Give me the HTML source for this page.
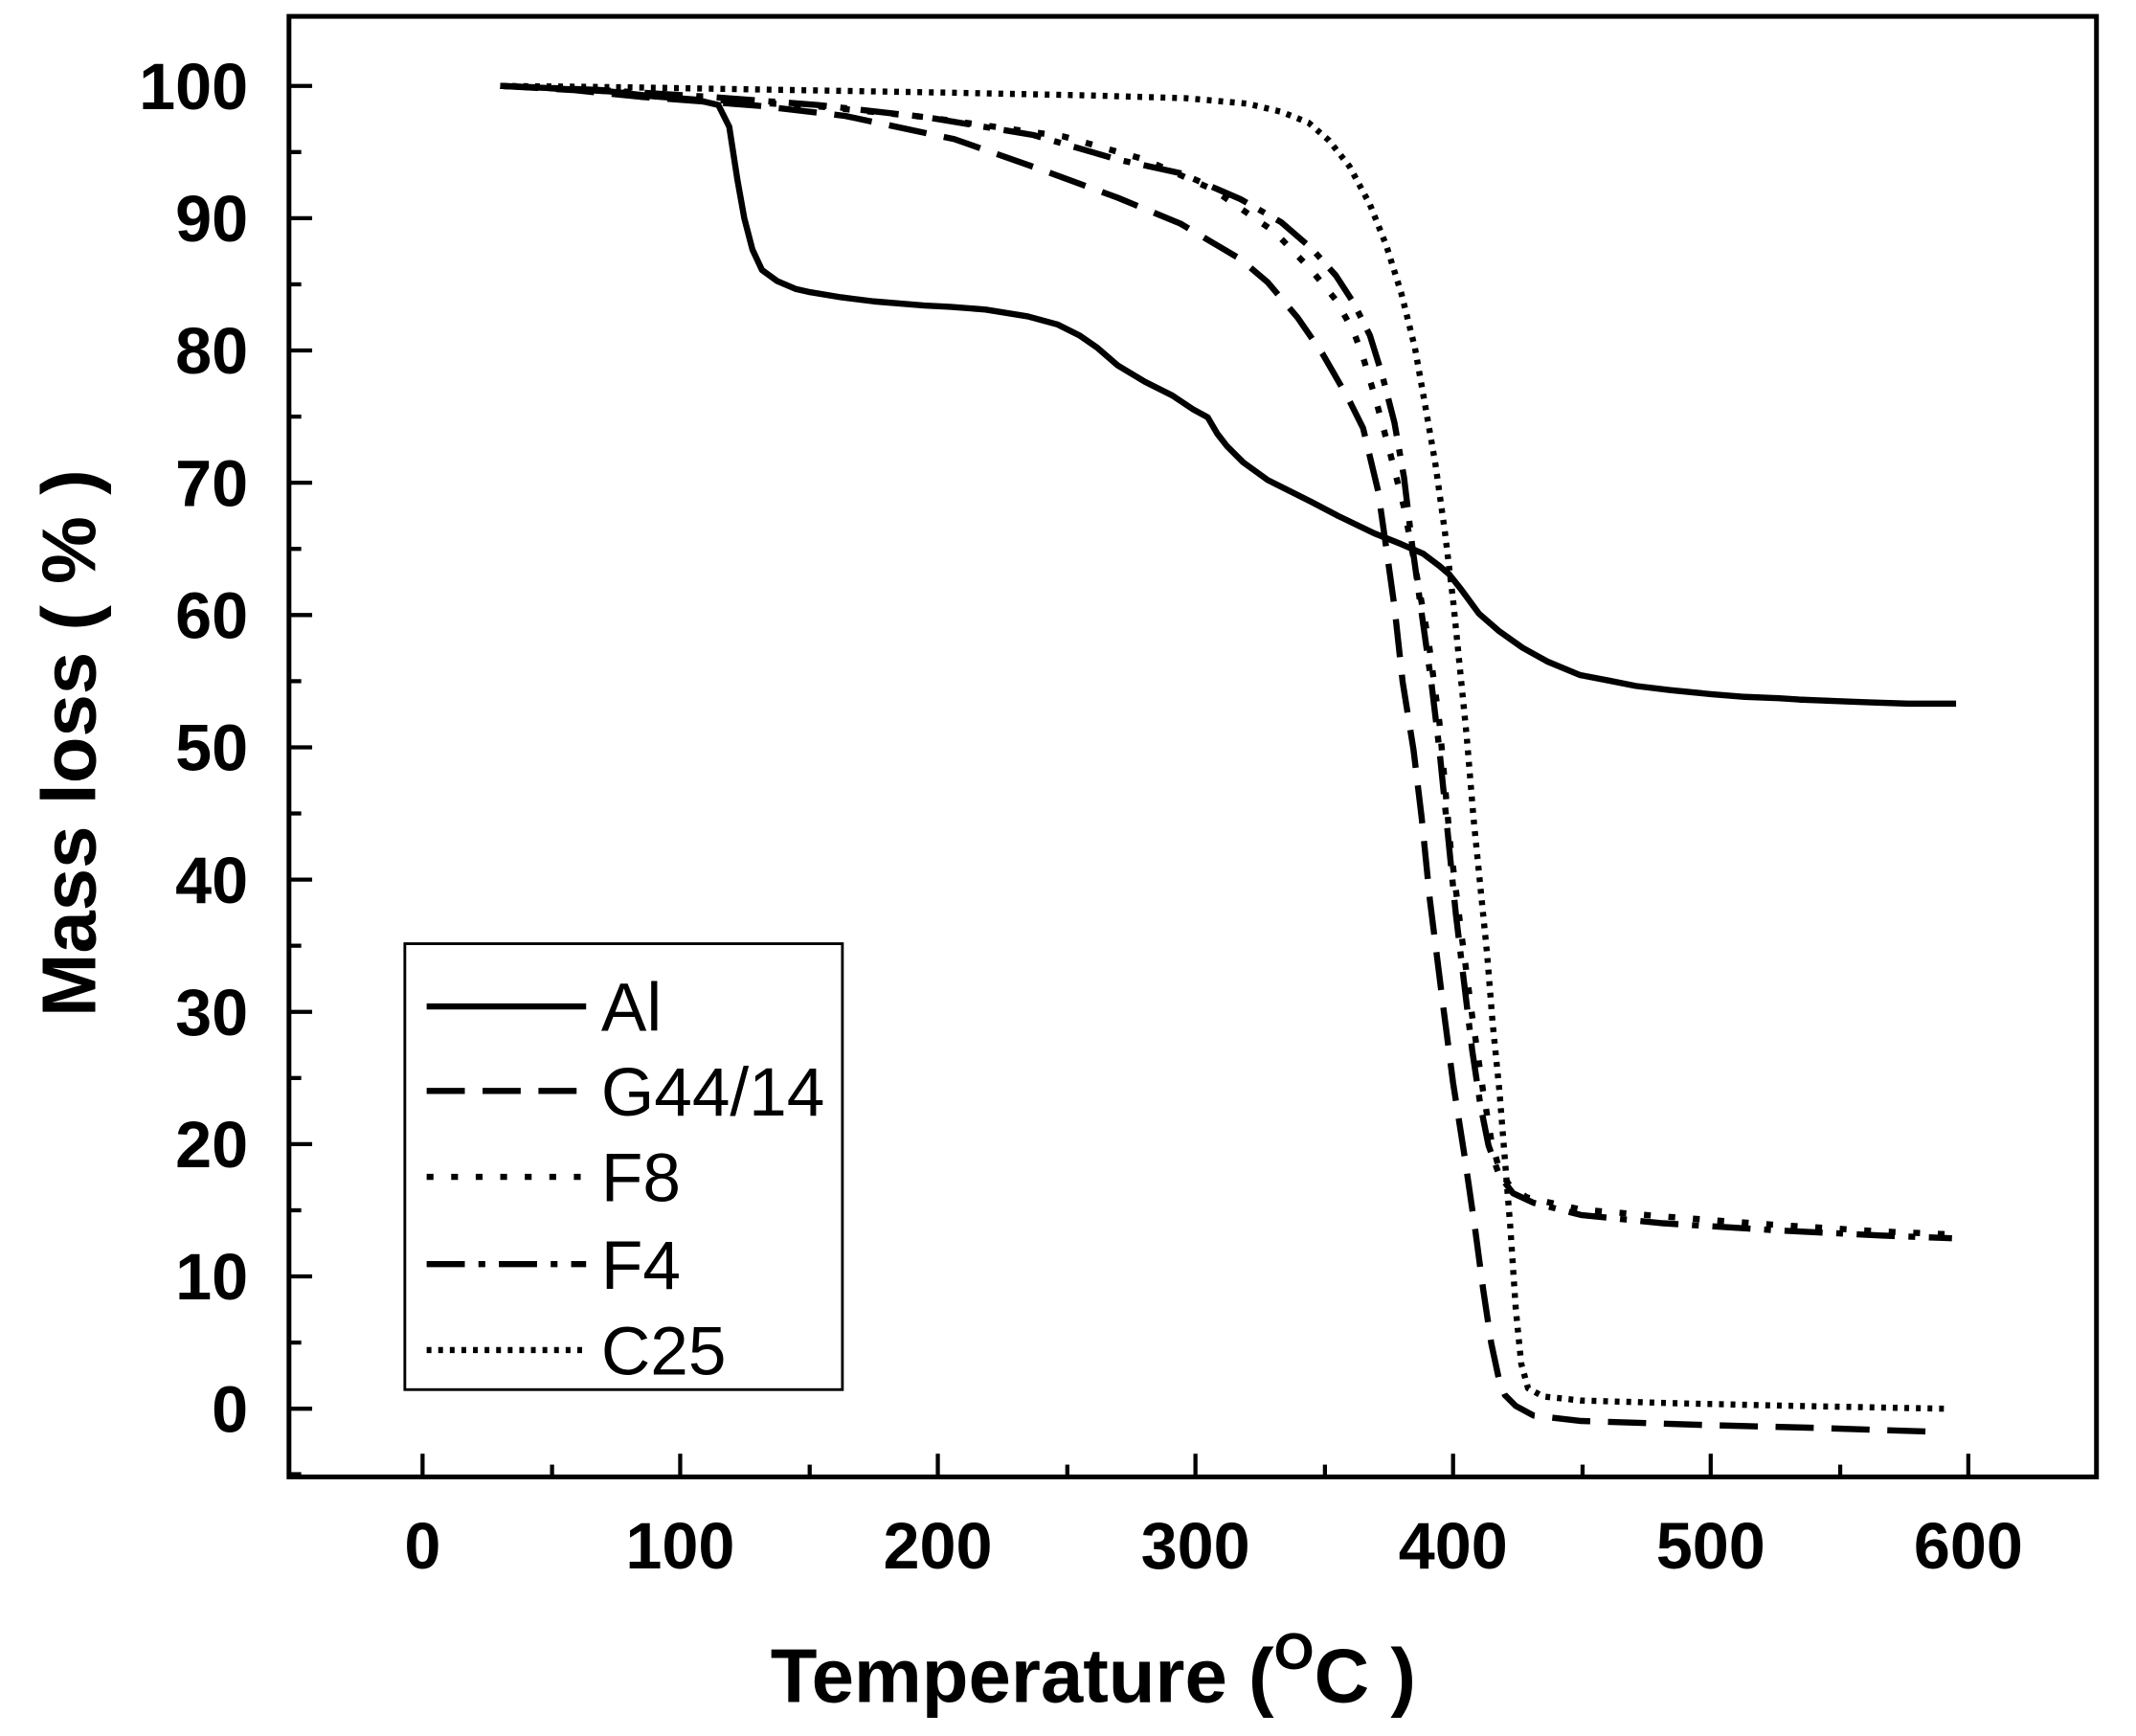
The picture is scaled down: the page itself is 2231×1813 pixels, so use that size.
<!DOCTYPE html>
<html><head><meta charset="utf-8"><style>html,body{margin:0;padding:0;background:#fff}svg{display:block}</style></head>
<body>
<svg width="2231" height="1813" viewBox="0 0 1567 1273" preserveAspectRatio="none" xmlns="http://www.w3.org/2000/svg" font-family="Liberation Sans, Arial, sans-serif">
<rect width="1567" height="1273" fill="#fff"/>
<rect x="212" y="12" width="1326" height="1071" fill="none" stroke="#000" stroke-width="3.5"/>
<g stroke="#000" stroke-width="3">
<line x1="310" y1="1083" x2="310" y2="1066"/><line x1="405" y1="1083" x2="405" y2="1074"/>
<line x1="499" y1="1083" x2="499" y2="1066"/><line x1="594" y1="1083" x2="594" y2="1074"/>
<line x1="688" y1="1083" x2="688" y2="1066"/><line x1="783" y1="1083" x2="783" y2="1074"/>
<line x1="877" y1="1083" x2="877" y2="1066"/><line x1="972" y1="1083" x2="972" y2="1074"/>
<line x1="1066" y1="1083" x2="1066" y2="1066"/><line x1="1161" y1="1083" x2="1161" y2="1074"/>
<line x1="1255" y1="1083" x2="1255" y2="1066"/><line x1="1350" y1="1083" x2="1350" y2="1074"/>
<line x1="1444" y1="1083" x2="1444" y2="1066"/>
<line x1="212" y1="63" x2="229" y2="63"/><line x1="212" y1="111.5" x2="221" y2="111.5"/>
<line x1="212" y1="160" x2="229" y2="160"/><line x1="212" y1="208.5" x2="221" y2="208.5"/>
<line x1="212" y1="257" x2="229" y2="257"/><line x1="212" y1="305.5" x2="221" y2="305.5"/>
<line x1="212" y1="354" x2="229" y2="354"/><line x1="212" y1="402.5" x2="221" y2="402.5"/>
<line x1="212" y1="451" x2="229" y2="451"/><line x1="212" y1="499.5" x2="221" y2="499.5"/>
<line x1="212" y1="548" x2="229" y2="548"/><line x1="212" y1="596.5" x2="221" y2="596.5"/>
<line x1="212" y1="645" x2="229" y2="645"/><line x1="212" y1="693.5" x2="221" y2="693.5"/>
<line x1="212" y1="742" x2="229" y2="742"/><line x1="212" y1="790.5" x2="221" y2="790.5"/>
<line x1="212" y1="839" x2="229" y2="839"/><line x1="212" y1="887.5" x2="221" y2="887.5"/>
<line x1="212" y1="936" x2="229" y2="936"/><line x1="212" y1="984.5" x2="221" y2="984.5"/>
<line x1="212" y1="1033" x2="229" y2="1033"/><line x1="212" y1="1081" x2="221" y2="1081"/>
</g>
<g font-size="48" font-weight="bold" text-anchor="end">
<text x="182" y="80">100</text><text x="182" y="177">90</text><text x="182" y="274">80</text>
<text x="182" y="371">70</text><text x="182" y="468">60</text><text x="182" y="565">50</text>
<text x="182" y="662">40</text><text x="182" y="759">30</text><text x="182" y="856">20</text>
<text x="182" y="953">10</text><text x="182" y="1050">0</text>
</g>
<g font-size="48" font-weight="bold" text-anchor="middle">
<text x="310" y="1150">0</text><text x="499" y="1150">100</text><text x="688" y="1150">200</text>
<text x="877" y="1150">300</text><text x="1066" y="1150">400</text><text x="1255" y="1150">500</text>
<text x="1444" y="1150">600</text>
</g>
<text x="802" y="1248" font-size="56" font-weight="bold" text-anchor="middle">Temperature (<tspan font-size="38" dy="-24">O</tspan><tspan dy="24">C )</tspan></text>
<text transform="translate(70,545) rotate(-90)" font-size="56" font-weight="bold" text-anchor="middle">Mass loss ( % )</text>
<g fill="none" stroke="#000" stroke-width="4.5" stroke-linejoin="round">
<polyline points="367,63 400,64.5 447,67 480,70.7 510,73 527,77 535,93 541,132 546,160 552,183 559,198 570,206 584,212 593,214 617,218 641,221 678,224 697,225 723,227 754,232 776,238 792,246 805,255 820,268 840,280 860,290 875,300 886,306 893,318 900,327 912,339 930,352 962,368 981,378 1008,391 1028,399 1044,406 1056,415 1063,421 1071,431 1085,450 1100,463 1117,475 1135,485 1159,495 1180,499 1200,503 1225,506 1255,509 1280,511 1305,512 1320,513 1345,514 1370,515 1400,516 1435,516"/>
<polyline stroke-dasharray="28,13" points="367,63 420,66 470,71 556,77.5 620,85 700,102 760,123 820,145 866,164 910,190 930,207 952,233 970,259 989,292 1000,314 1011,360 1017,402 1023,445 1029,500 1037,550 1043,600 1049,660 1054,700 1059,740 1066,794 1074,845 1082,900 1088,945 1094,985 1100,1013 1104,1023 1112,1031 1125,1038 1160,1042 1252,1045 1330,1047 1422,1050"/>
<polyline stroke-dasharray="5,13" points="367,63 450,67 520,73 600,78 680,86 780,100 840,117 890,139 935,170 962,198 980,220 993,243 1000,262 1009,292 1020,333 1030,372 1039,420 1048,470 1056,530 1064,620 1072,684 1080,745 1088,800 1094,836 1100,858 1108,870 1120,878 1160,887 1220,892 1300,898 1380,903 1428,905"/>
<polyline stroke-dasharray="28,10,5,10" points="367,63 440,66 520,71 600,77 680,86 758,99 820,117 866,127 910,146 940,163 962,182 980,202 993,222 1005,246 1014,275 1023,310 1030,350 1036,400 1043,450 1050,500 1056,550 1062,610 1068,670 1074,720 1080,770 1086,810 1092,840 1100,862 1110,875 1125,882 1160,891 1220,897 1300,902 1380,906 1432,908"/>
<polyline stroke-dasharray="3.5,5" points="367,63 460,64 580,66 700,68 800,70 870,72 915,76 940,82 960,90 975,103 990,122 1005,150 1017,180 1028,215 1038,255 1046,300 1053,340 1060,390 1066,440 1071,490 1076,540 1081,600 1086,650 1091,700 1095,750 1100,800 1104,850 1108,900 1112,960 1116,1000 1121,1018 1132,1024 1160,1027 1230,1029 1320,1031 1427,1033"/>
</g>
<rect x="297" y="692" width="321" height="327" fill="#fff" stroke="#000" stroke-width="2"/>
<g fill="none" stroke="#000" stroke-width="4.5">
<line x1="313" y1="738" x2="430" y2="738"/>
<line x1="313" y1="800" x2="430" y2="800" stroke-dasharray="28,13"/>
<line x1="313" y1="863" x2="430" y2="863" stroke-dasharray="5,13"/>
<line x1="313" y1="927" x2="430" y2="927" stroke-dasharray="28,10,5,10"/>
<line x1="313" y1="990" x2="430" y2="990" stroke-dasharray="3.5,5"/>
</g>
<g font-size="50">
<text x="441" y="756">Al</text><text x="441" y="818">G44/14</text><text x="441" y="881">F8</text>
<text x="441" y="945">F4</text><text x="441" y="1008">C25</text>
</g>
</svg>
</body></html>
